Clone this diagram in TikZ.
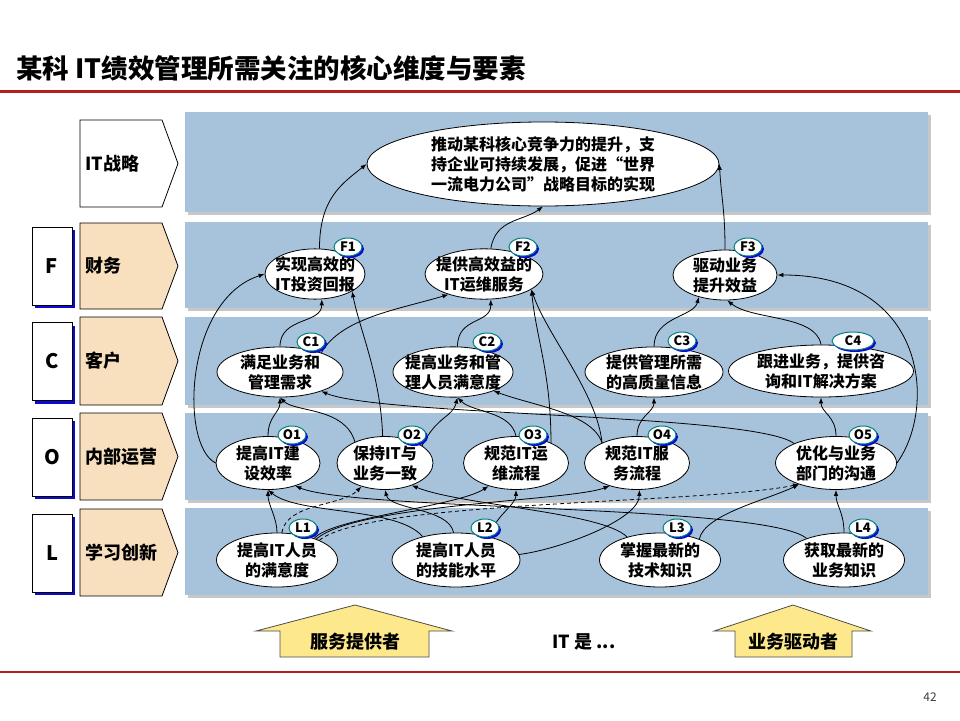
\documentclass[tikz,border=0pt]{standalone}
\usepackage{fontspec}
\setmainfont{Noto Sans CJK SC}
\usepackage{xcolor}
\usepackage{tikz}
\usetikzlibrary{arrows.meta, shapes.geometric, shadows}

\definecolor{bandblue}{RGB}{167,195,219}
\definecolor{tanfill}{RGB}{248,224,190}
\definecolor{tagline}{RGB}{0,128,128}
\definecolor{tagshade}{RGB}{10,10,210}
\definecolor{redline}{RGB}{180,30,30}
\definecolor{arrowyellow}{RGB}{253,233,140}

\begin{document}
\begin{tikzpicture}[
    x=1pt, y=-1pt,
    band/.style={fill=bandblue, drop shadow={fill=black!22, opacity=1, shadow xshift=3pt, shadow yshift=-3pt}},
    chev/.style={draw, line width=0.8pt, fill=#1},
    rowlabel/.style={anchor=west, inner sep=0pt, font=\fontsize{18}{20}\selectfont\bfseries},
    letter/.style={draw, fill=white, line width=0.8pt, minimum width=40pt, minimum height=78pt, inner sep=0pt, font=\fontsize{20}{20}\selectfont\bfseries, drop shadow={fill=tagshade, opacity=1, shadow xshift=3pt, shadow yshift=-3pt}},
    goal/.style={ellipse, draw, fill=white, line width=0.8pt, inner xsep=-8pt, inner ysep=0pt, align=center, font=\fontsize{16}{20}\selectfont\bfseries},
    tag/.style={ellipse, draw=tagline, fill=white, line width=1pt, minimum width=28pt, minimum height=18pt, inner sep=0pt, font=\fontsize{13}{13}\selectfont\bfseries, drop shadow={fill=tagshade, opacity=1, shadow xshift=2pt, shadow yshift=-2pt}},
    link/.style={-{Latex[length=6pt, width=4.5pt]}, line width=0.8pt},
    dlink/.style={link, dash pattern=on 4pt off 3pt},
    upbox/.style={draw=black!70, line width=0.8pt, fill=arrowyellow}
]
\useasboundingbox (0,0) rectangle (960,720);

% Title
\node[anchor=west, inner sep=0pt, font=\fontsize{26.5}{26.5}\selectfont\bfseries] (title) at (16,68) {某科 IT绩效管理所需关注的核心维度与要素};
\draw[redline, line width=2.5pt] (0,91.5) -- (960,91.5);
\draw[redline, line width=2.5pt] (0,672) -- (960,672);
\node[font=\fontsize{12}{12}\selectfont, black!75] (page) at (930,697) {42};

% Bands
\fill[band] (185,112) rectangle (928,212);
\fill[band] (185,222) rectangle (928,308);
\fill[band] (185,317) rectangle (928,405);
\fill[band] (185,413) rectangle (928,500);
\fill[band] (185,508) rectangle (928,595);

% Row headers
\draw[chev=white] (80,120) -- (162,120) -- (178,163.5) -- (162,207) -- (80,207) -- cycle;
\draw[chev=tanfill] (80,223) -- (162,223) -- (178,266) -- (162,309) -- (80,309) -- cycle;
\draw[chev=tanfill] (80,317) -- (162,317) -- (178,361) -- (162,405) -- (80,405) -- cycle;
\draw[chev=tanfill] (80,413) -- (162,413) -- (178,456.5) -- (162,500) -- (80,500) -- cycle;
\draw[chev=tanfill] (80,509) -- (162,509) -- (178,552.5) -- (162,596) -- (80,596) -- cycle;
\node[rowlabel] (lIT) at (85,163.5) {IT战略};
\node[rowlabel] (lF) at (85,266) {财务};
\node[rowlabel] (lC) at (85,361) {客户};
\node[rowlabel] (lO) at (85,456.5) {内部运营};
\node[rowlabel] (lL) at (85,552.5) {学习创新};

\node[letter] (kF) at (52,266) {F};
\node[letter] (kC) at (52,361.5) {C};
\node[letter] (kO) at (52,457) {O};
\node[letter] (kL) at (52,553) {L};

% Goals
\node[goal, minimum width=352pt, minimum height=84pt] (top) at (543,164) {推动某科核心竞争力的提升，支\\持企业可持续发展，促进“世界\\一流电力公司”战略目标的实现};

\node[goal, minimum width=100pt, minimum height=48pt] (F1) at (315,274) {实现高效的\\IT投资回报};
\node[goal, minimum width=118pt, minimum height=48pt] (F2) at (484,274) {提供高效益的\\IT运维服务};
\node[goal, minimum width=104pt, minimum height=50pt] (F3) at (725,275) {驱动业务\\提升效益};

\node[goal, minimum width=126pt, minimum height=50pt] (C1) at (280,372) {满足业务和\\管理需求};
\node[goal, minimum width=120pt, minimum height=50pt] (C2) at (453,372) {提高业务和管\\理人员满意度};
\node[goal, minimum width=138pt, minimum height=50pt] (C3) at (654,372) {提供管理所需\\的高质量信息};
\node[goal, minimum width=185pt, minimum height=52pt] (C4) at (821,371) {跟进业务，提供咨\\询和IT解决方案};

\node[goal, minimum width=104pt, minimum height=53pt] (O1) at (268,463) {提高IT建\\设效率};
\node[goal, minimum width=96pt, minimum height=53pt] (O2) at (385,463) {保持IT与\\业务一致};
\node[goal, minimum width=105pt, minimum height=53pt] (O3) at (516,463) {规范IT运\\维流程};
\node[goal, minimum width=105pt, minimum height=53pt] (O4) at (637,463) {规范IT服\\务流程};
\node[goal, minimum width=121pt, minimum height=53pt] (O5) at (836,463) {优化与业务\\部门的沟通};

\node[goal, minimum width=121pt, minimum height=54pt] (L1) at (277,560) {提高IT人员\\的满意度};
\node[goal, minimum width=128pt, minimum height=54pt] (L2) at (456,560) {提高IT人员\\的技能水平};
\node[goal, minimum width=121pt, minimum height=54pt] (L3) at (660,560) {掌握最新的\\技术知识};
\node[goal, minimum width=121pt, minimum height=54pt] (L4) at (844,560) {获取最新的\\业务知识};

% To IT strategy
\draw[link] (F1.80) .. controls +(0,-50) and +(-25,20) .. (top.west);
\draw[link] (F2.75) .. controls +(5,-30) and +(-20,15) .. (top.south);
\draw[link] (F3.north) .. controls +(0,-40) and +(2,35) .. (top.east);

% To finance
\draw[link] (C1.north) .. controls +(0,-30) and +(0,25) .. (F1.-75);
\draw[link] (C1.25) .. controls +(20,-35) and +(-50,15) .. (F2.-150);
\draw[link] (O2.95) .. controls +(-2,-60) and +(8,40) .. (F1.-25);
\draw[link] (O1.west) .. controls +(-36,-18) and +(-80,26) .. (F1.west);
\draw[link] (C2.80) .. controls +(0,-30) and +(0,25) .. (F2.-75);
\draw[link] (O3.30) .. controls +(0,-70) and +(5,50) .. (F2.-18);
\draw[link] (O4.150) .. controls +(-5,-50) and +(15,45) .. (F2.-18);
\draw[link] (C3.north) .. controls +(0,-30) and +(-5,20) .. (F3.-140);
\draw[link] (C4.north) .. controls +(-5,-30) and +(25,20) .. (F3.-85);
\draw[link] (O5.east) .. controls +(40,-55) and +(150,0) .. (F3.east);

% To customer
\draw[link] (O1.north) .. controls +(0,-20) and +(0,15) .. (C1.south);
\draw[link] (O2.145) .. controls +(-10,-35) and +(15,15) .. (C1.south);
\draw[link] (O5.155) .. controls +(-40,-30) and +(60,25) .. (C1.-25);
\draw[link] (O2.25) .. controls +(15,-30) and +(-5,20) .. (C2.-80);
\draw[link] (O3.north) .. controls +(-5,-25) and +(15,15) .. (C2.-80);
\draw[link] (O4.150) .. controls +(-10,-30) and +(40,15) .. (C2.-25);
\draw[link] (O4.north) .. controls +(0,-20) and +(0,15) .. (C3.south);
\draw[link] (O5.north) .. controls +(0,-20) and +(0,15) .. (C4.south);

% To operations
\draw[link] (L1.north) .. controls +(0,-15) and +(0,15) .. (O1.south);
\draw[dlink] (L1.80) .. controls +(5,-30) and +(-20,20) .. (O2.-135);
\draw[link] (L2.145) .. controls +(-25,-30) and +(30,25) .. (O1.south);
\draw[link] (L2.95) .. controls +(-5,-25) and +(5,20) .. (O2.south);
\draw[link] (L4.150) .. controls +(-40,-34) and +(60,25) .. (O1.-40);
\draw[link] (L3.145) .. controls +(-25,-25) and +(50,20) .. (O2.-40);
\draw[link] (L1.30) .. controls +(15,-20) and +(-30,20) .. (O3.-140);
\draw[link] (L2.35) .. controls +(5,-20) and +(0,15) .. (O3.south);
\draw[link] (L1.28) .. controls +(40,-35) and +(-40,15) .. (O4.-140);
\draw[dlink] (L1.25) .. controls +(50,-40) and +(-100,20) .. (O5.-150);
\draw[link] (L2.5) .. controls +(40,-5) and +(0,30) .. (O4.-85);
\draw[link] (L3.28) .. controls +(5,-25) and +(-30,15) .. (O5.-150);
\draw[link] (L4.north) .. controls +(0,-20) and +(0,15) .. (O5.south);

% Tags
\node[tag] (tF1) at (348,247) {F1};
\node[tag] (tF2) at (523,247) {F2};
\node[tag] (tF3) at (748,247) {F3};
\node[tag] (tC1) at (311,342) {C1};
\node[tag] (tC2) at (487,342) {C2};
\node[tag] (tC3) at (682,341) {C3};
\node[tag, minimum width=42pt] (tC4) at (853,341) {C4};
\node[tag] (tO1) at (292,435) {O1};
\node[tag] (tO2) at (412,435) {O2};
\node[tag] (tO3) at (533,435) {O3};
\node[tag] (tO4) at (662,435) {O4};
\node[tag] (tO5) at (863,435) {O5};
\node[tag] (tL1) at (303,528) {L1};
\node[tag] (tL2) at (485,528) {L2};
\node[tag] (tL3) at (677,528) {L3};
\node[tag] (tL4) at (863,528) {L4};

% IT is ...
\draw[upbox] (256,631) -- (355,605) -- (452,631) -- (429,631) -- (429,657) -- (280,657) -- (280,631) -- cycle;
\draw[upbox] (714,631) -- (793,605) -- (871,631) -- (852,631) -- (852,657) -- (735,657) -- (735,631) -- cycle;
\node[font=\fontsize{18}{18}\selectfont\bfseries] (svc) at (355,642) {服务提供者};
\node[font=\fontsize{18}{18}\selectfont\bfseries] (itis) at (584,642) {IT 是 ...};
\node[font=\fontsize{18}{18}\selectfont\bfseries] (drv) at (793,642) {业务驱动者};

\end{tikzpicture}
\end{document}
